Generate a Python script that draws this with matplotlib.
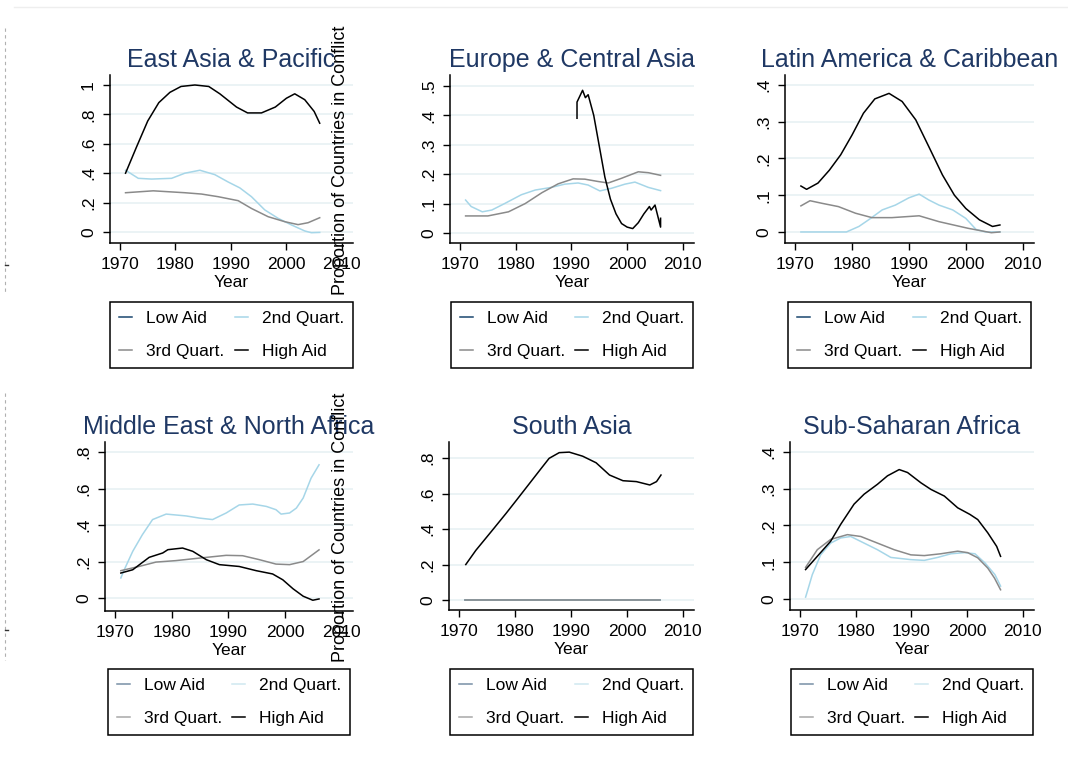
import matplotlib
matplotlib.use('Agg')
import matplotlib.pyplot as plt
from matplotlib.lines import Line2D

plt.rcParams['font.family'] = ['Liberation Sans', 'DejaVu Sans']

regions = ['East Asia & Pacific', 'Europe & Central Asia', 'Latin America & Caribbean',
           'Middle East & North Africa', 'South Asia', 'Sub-Saharan Africa']
series_names = ['Low Aid', '2nd Quart.', '3rd Quart.', 'High Aid']
x_ticks = [1970, 1980, 1990, 2000, 2010]

# y ticks of each panel
ticks_1 = [0, .2, .4, .6, .8, 1]
labels_1 = ['0', '.2', '.4', '.6', '.8', '1']
ticks_05 = [0, .1, .2, .3, .4, .5]
labels_05 = ['0', '.1', '.2', '.3', '.4', '.5']
ticks_04 = [0, .1, .2, .3, .4]
labels_04 = ['0', '.1', '.2', '.3', '.4']
ticks_08 = [0, .2, .4, .6, .8]
labels_08 = ['0', '.2', '.4', '.6', '.8']

# East Asia & Pacific
eap_high_yr = [1971, 1973, 1975, 1977, 1979, 1981, 1983.5, 1986, 1988, 1991, 1993, 1995.5, 1998, 2000, 2001.5, 2003.3, 2005, 2006]
eap_high = [0.40, 0.58, 0.755, 0.88, 0.95, 0.99, 1.0, 0.99, 0.94, 0.85, 0.81, 0.81, 0.85, 0.91, 0.94, 0.90, 0.82, 0.74]
eap_q2_yr = [1971, 1973.3, 1975.7, 1979.3, 1981.7, 1984.4, 1987.1, 1989.5, 1991.6, 1993.7, 1996.1, 1998.5, 2000.9, 2003.3, 2004.5, 2006]
eap_q2 = [0.42, 0.365, 0.36, 0.365, 0.40, 0.42, 0.39, 0.34, 0.30, 0.24, 0.15, 0.093, 0.048, 0.007, -0.005, -0.003]
eap_q3_yr = [1971, 1976, 1981.7, 1984.7, 1987.7, 1991.3, 1993.7, 1996.7, 1999.7, 2002.1, 2003.9, 2006]
eap_q3 = [0.267, 0.28, 0.267, 0.258, 0.24, 0.213, 0.16, 0.104, 0.07, 0.05, 0.063, 0.097]

# Europe & Central Asia
eca_high_yr = [1991, 1991, 1992, 1992.5, 1993, 1994, 1995, 1996, 1997, 1998, 1999, 2000, 2001, 2002, 2003, 2004, 2004.3, 2005, 2006, 2006]
eca_high = [0.39, 0.445, 0.485, 0.46, 0.47, 0.40, 0.295, 0.19, 0.115, 0.065, 0.032, 0.02, 0.015, 0.035, 0.065, 0.09, 0.078, 0.095, 0.02, 0.05]
eca_q2_yr = [1971, 1972, 1974, 1975.7, 1978, 1981, 1983.5, 1986.4, 1988.8, 1991.2, 1993, 1995.1, 1997.2, 1999.6, 2001.4, 2003.8, 2006]
eca_q2 = [0.112, 0.09, 0.072, 0.078, 0.10, 0.13, 0.146, 0.155, 0.166, 0.17, 0.163, 0.143, 0.152, 0.166, 0.173, 0.155, 0.144]
eca_q3_yr = [1971, 1975, 1978.7, 1981.7, 1984.7, 1987.6, 1990.3, 1992.4, 1994.8, 1996.6, 1999, 2002, 2003.8, 2006]
eca_q3 = [0.058, 0.058, 0.072, 0.10, 0.137, 0.167, 0.184, 0.183, 0.175, 0.17, 0.186, 0.208, 0.205, 0.196]

# Latin America & Caribbean
lac_high_yr = [1971, 1972, 1974, 1976, 1978, 1980, 1982, 1984, 1986.5, 1988.8, 1991.2, 1993.5, 1995.9, 1998, 2000, 2002.4, 2004.7, 2006]
lac_high = [0.125, 0.116, 0.133, 0.168, 0.21, 0.264, 0.323, 0.362, 0.377, 0.355, 0.305, 0.232, 0.155, 0.10, 0.064, 0.033, 0.015, 0.019]
lac_q2_yr = [1971, 1979, 1981.2, 1982.9, 1985.3, 1987.6, 1990, 1991.8, 1993.5, 1995.3, 1997.7, 2000, 2001.8, 2003.5, 2006]
lac_q2 = [0, 0, 0.015, 0.033, 0.06, 0.073, 0.093, 0.103, 0.087, 0.073, 0.06, 0.037, 0.007, 0, 0]
lac_q3_yr = [1971, 1972.6, 1974.7, 1977.6, 1980.6, 1983.5, 1987, 1991.8, 1995.3, 2000.4, 2004.5, 2006]
lac_q3 = [0.071, 0.085, 0.078, 0.069, 0.051, 0.039, 0.039, 0.044, 0.028, 0.01, -0.002, 0.0]

# Middle East & North Africa
mena_high_yr = [1971, 1973.1, 1976, 1978.4, 1979.3, 1981.9, 1983.7, 1986.1, 1988.4, 1991.9, 1994.9, 1997.8, 1999.6, 2001.4, 2003.2, 2004.9, 2006]
mena_high = [0.137, 0.155, 0.223, 0.247, 0.265, 0.274, 0.256, 0.21, 0.183, 0.173, 0.15, 0.132, 0.10, 0.051, 0.01, -0.012, -0.005]
mena_q2_yr = [1971, 1971.6, 1973.1, 1974.8, 1976.6, 1979, 1982.5, 1984.9, 1987.2, 1989.6, 1991.9, 1994.3, 1996.7, 1998.4, 1999.3, 2000.8, 2002, 2003.2, 2004.6, 2006]
mena_q2 = [0.11, 0.155, 0.256, 0.347, 0.43, 0.46, 0.45, 0.438, 0.43, 0.466, 0.51, 0.515, 0.502, 0.484, 0.46, 0.466, 0.493, 0.548, 0.657, 0.73]
mena_q3_yr = [1971, 1974.2, 1977.2, 1980.7, 1984.9, 1989.6, 1992.5, 1995.5, 1998.4, 2000.8, 2003.2, 2006]
mena_q3 = [0.15, 0.173, 0.197, 0.205, 0.219, 0.234, 0.232, 0.21, 0.186, 0.183, 0.20, 0.264]

# South Asia
sas_high_yr = [1971.2, 1973, 1976, 1978.4, 1980.2, 1982.6, 1984.7, 1986.1, 1987.9, 1989.7, 1992.1, 1994.5, 1996.9, 1999.3, 2001.7, 2004.1, 2005.3, 2006.1]
sas_high = [0.2, 0.28, 0.395, 0.488, 0.56, 0.657, 0.742, 0.798, 0.83, 0.833, 0.81, 0.773, 0.704, 0.672, 0.667, 0.648, 0.667, 0.704]
sas_zero_yr = [1971, 2006]
sas_zero = [0, 0]

# Sub-Saharan Africa
ssa_high_yr = [1971, 1973.1, 1975.5, 1977.3, 1979.7, 1981.5, 1983.9, 1985.7, 1987.8, 1989.3, 1991.7, 1993.5, 1995.9, 1998.3, 2000.5, 2001.9, 2003.7, 2005.3, 2006]
ssa_high = [0.08, 0.116, 0.157, 0.203, 0.258, 0.285, 0.312, 0.335, 0.352, 0.344, 0.316, 0.298, 0.28, 0.248, 0.23, 0.216, 0.18, 0.143, 0.116]
ssa_q2_yr = [1971, 1971.3, 1972.2, 1973.7, 1975.5, 1977.3, 1979.1, 1981.5, 1983.9, 1986.3, 1989.9, 1992.3, 1994.7, 1997.1, 1999.5, 2001.4, 2003.2, 2005, 2006]
ssa_q2 = [0.005, 0.02, 0.066, 0.12, 0.152, 0.166, 0.17, 0.152, 0.134, 0.113, 0.107, 0.105, 0.113, 0.123, 0.126, 0.123, 0.098, 0.066, 0.035]
ssa_q3_yr = [1971, 1973.1, 1975.5, 1978.5, 1980.9, 1983.9, 1986.9, 1989.9, 1992.3, 1995.3, 1998.3, 2000.1, 2001.9, 2003.7, 2004.9, 2006]
ssa_q3 = [0.086, 0.134, 0.162, 0.175, 0.17, 0.152, 0.134, 0.12, 0.118, 0.123, 0.13, 0.126, 0.112, 0.084, 0.057, 0.025]

colors = ['#1a476f', '#a6d6e8', '#8a8a8a', '#000000']
colors_pale = ['#7890a6', '#cfe8f0', '#a8a8a8', '#000000']  # legends in the lower row look washed out
title_color = '#1f3864'

W, H = 1068, 774


def box(l, r, t, b):
    # pixel edges -> figure fraction
    return [l / W, 1 - b / H, (r - l) / W, (b - t) / H]


fig = plt.figure(figsize=(W / 100, H / 100), dpi=100)

panels = [
    (box(110, 353, 75, 243), (-0.075, 1.068), ticks_1, labels_1,
     [None, (eap_q2_yr, eap_q2), (eap_q3_yr, eap_q3), (eap_high_yr, eap_high)]),
    (box(450, 694, 75, 243), (-0.034, 0.537), ticks_05, labels_05,
     [None, (eca_q2_yr, eca_q2), (eca_q3_yr, eca_q3), (eca_high_yr, eca_high)]),
    (box(785, 1034, 75, 243), (-0.030, 0.427), ticks_04, labels_04,
     [None, (lac_q2_yr, lac_q2), (lac_q3_yr, lac_q3), (lac_high_yr, lac_high)]),
    (box(105, 353, 442, 611), (-0.071, 0.855), ticks_08, labels_08,
     [None, (mena_q2_yr, mena_q2), (mena_q3_yr, mena_q3), (mena_high_yr, mena_high)]),
    (box(449, 694, 442, 610), (-0.056, 0.89), ticks_08, labels_08,
     [(sas_zero_yr, sas_zero), (sas_zero_yr, sas_zero), (sas_zero_yr, sas_zero), (sas_high_yr, sas_high)]),
    (box(790, 1034, 442, 610), (-0.030, 0.427), ticks_04, labels_04,
     [None, (ssa_q2_yr, ssa_q2), (ssa_q3_yr, ssa_q3), (ssa_high_yr, ssa_high)]),
]

# legend is filled row by row in the original: Low, 2nd / 3rd, High
leg_order = [0, 2, 1, 3]

for i, (pos, ylim, yt, yl, data) in enumerate(panels):
    ax = fig.add_axes(pos)
    for k, d in enumerate(data):
        if d is None:
            continue
        ax.plot(d[0], d[1], color=colors[k], lw=1.1, zorder=3 + k)

    ax.set_xlim(1968.2, 2012)
    ax.set_ylim(*ylim)
    ax.set_xticks(x_ticks)
    ax.set_yticks(yt)
    ax.set_yticklabels(yl, rotation=90, va='center')
    ax.tick_params(axis='both', labelsize=12.5, length=5, width=1, direction='out')
    ax.tick_params(axis='y', pad=5)
    ax.tick_params(axis='x', pad=5)
    ax.grid(axis='y', color='#e8f1f3', lw=1.2)
    ax.set_axisbelow(True)
    for s in ['top', 'right']:
        ax.spines[s].set_visible(False)
    for s in ['left', 'bottom']:
        ax.spines[s].set_linewidth(1.1)
    ax.set_xlabel('Year', fontsize=12.5, labelpad=2)
    ax.set_title(regions[i], fontsize=18, color=title_color, pad=6)

    # legend box under each panel
    leg_cols = colors if i < 3 else colors_pale
    handles = [Line2D([], [], color=leg_cols[k], lw=1.1) for k in leg_order]
    names = [series_names[k] for k in leg_order]
    top_px = 302 if i < 3 else 669
    cx = pos[0] + pos[2] / 2
    leg = ax.legend(handles, names, ncol=2, loc='upper center',
                    bbox_to_anchor=(cx, 1 - top_px / H), bbox_transform=fig.transFigure,
                    fontsize=12.5, frameon=True, fancybox=False, framealpha=1,
                    edgecolor='black', handlelength=0.75, handletextpad=0.8,
                    columnspacing=0.6, labelspacing=1.05, borderpad=0.5,
                    borderaxespad=0)
    leg.get_frame().set_linewidth(1.1)

# shared y-axis title, drawn on top of the panels like in the original
for cy in [160, 527]:
    fig.text(340.5 / W, 1 - cy / H, 'Proportion of Countries in Conflict', rotation=90,
             ha='center', va='center', fontsize=13)

# faint frame bits at the edges
fig.add_artist(Line2D([14 / W, 1], [1 - 7 / H, 1 - 7 / H], color='#eeeeee', lw=1))
for y0, y1, yt in [(28, 293, 265), (393, 660, 630)]:
    fig.add_artist(Line2D([5 / W, 5 / W], [1 - y0 / H, 1 - y1 / H], color='#b0b0b0',
                          lw=0.8, ls=(0, (3, 3))))
    fig.add_artist(Line2D([5 / W, 8 / W], [1 - yt / H, 1 - yt / H], color='#333333', lw=1))

plt.savefig('out.png', dpi=100)
